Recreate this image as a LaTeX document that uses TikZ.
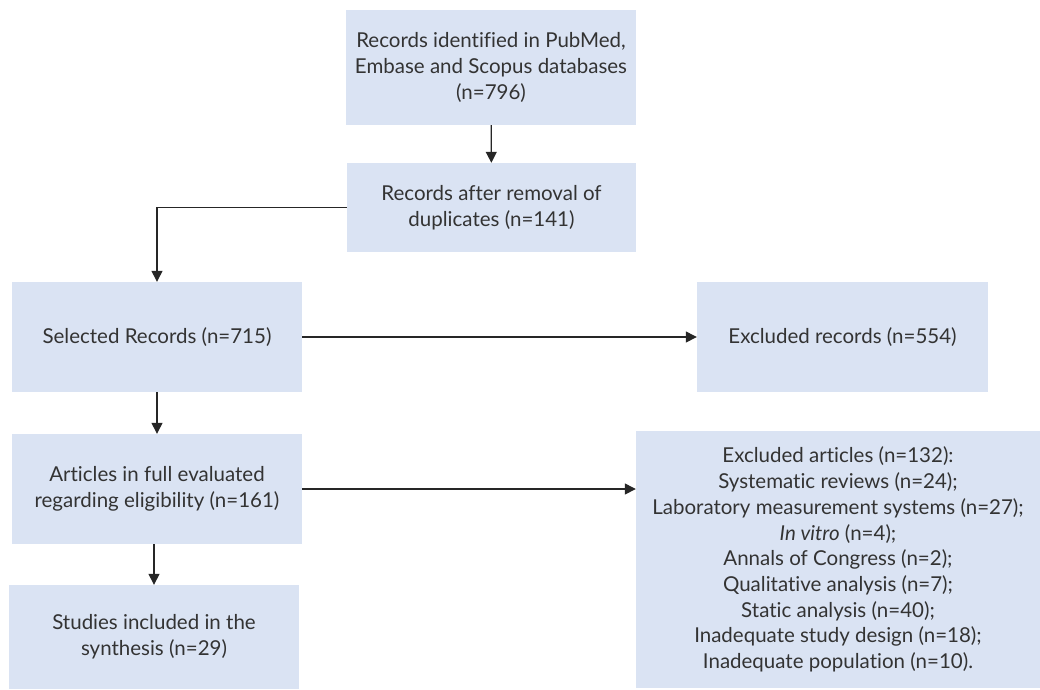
\documentclass[tikz,border=0pt]{standalone}
\usepackage{fontspec}
\setmainfont{Lato}[Ligatures={NoCommon}]
\usetikzlibrary{arrows.meta}
\definecolor{boxfill}{HTML}{DAE3F3}
\definecolor{txt}{HTML}{333333}
\begin{document}
\begin{tikzpicture}[x=1pt,y=-1pt,
  fbox/.style={fill=boxfill, draw=none, inner sep=0pt, align=center, text=txt,
    font=\fontsize{20.5}{25.7}\selectfont},
  conn/.style={line width=1.3pt, draw=black!85, -{Triangle[length=11pt,width=11pt]}}]
\useasboundingbox (0,0) rectangle (1040,689);
\node[fbox, minimum width=290pt, minimum height=115pt] (b1) at (491,67.5)
  {Records identified in PubMed,\\Embase and Scopus databases\\(n=796)};
\node[fbox, minimum width=289pt, minimum height=89pt] (b2) at (491.5,207.5)
  {Records after removal of\\duplicates (n=141)};
\node[fbox, minimum width=290pt, minimum height=110pt] (b3) at (157,337)
  {Selected Records (n=715)};
\node[fbox, minimum width=291pt, minimum height=110pt] (b4) at (842.5,337)
  {Excluded records (n=554)};
\node[fbox, minimum width=290pt, minimum height=110pt] (b5) at (157,489)
  {Articles in full evaluated\\regarding eligibility (n=161)};
\node[fbox, minimum width=404pt, minimum height=257pt] (b6) at (838,559.5)
  {Excluded articles (n=132):\\Systematic reviews (n=24);\\Laboratory measurement systems (n=27);\\\textit{In vitro} (n=4);\\Annals of Congress (n=2);\\Qualitative analysis (n=7);\\Static analysis (n=40);\\Inadequate study design (n=18);\\Inadequate population (n=10).};
\node[fbox, minimum width=290pt, minimum height=104pt] (b7) at (154,637)
  {Studies included in the\\synthesis (n=29)};
\draw[conn] (b1) -- (b2);
\draw[conn] (b2.west) -| (b3.north);
\draw[conn] (b3) -- (b4);
\draw[conn] (b3) -- (b5);
\draw[conn] (b5.east) -- (b5.east -| b6.west);
\draw[conn] (b7.north |- b5.south) -- (b7.north);
\end{tikzpicture}
\end{document}
